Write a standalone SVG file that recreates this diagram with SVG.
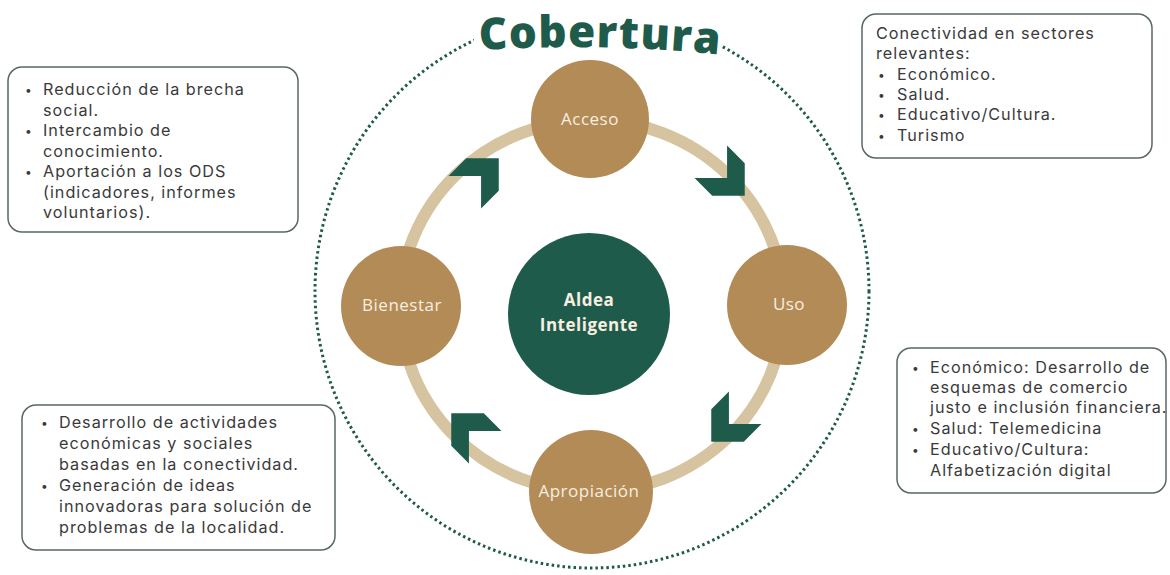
<svg xmlns="http://www.w3.org/2000/svg" width="1170" height="575" viewBox="0 0 1170 575">
<style>
.box{fill:#ffffff;stroke:#5a6766;stroke-width:1.5}
.bt{font-family:Inter,"Open Sans","Liberation Sans",sans-serif;font-size:16.2px;fill:#3a3a3a;letter-spacing:1px}
.b{font-size:12px}
.node{fill:#b38b57}
.nt{font-family:"Open Sans","Liberation Sans",sans-serif;font-size:17px;fill:#f7efe0;text-anchor:middle;letter-spacing:0.5px}
.chev{fill:#1f5b4b}
</style>
<defs>
<polygon id="chev" points="35,0 12,-23 -13,-23 10,0 -13,23 12,23"/>
<path id="titlePath" d="M 440,53 A 1500,1500 0 0,1 760,59"/>
</defs>
<rect width="1170" height="575" fill="#ffffff"/>

<!-- outer dotted coverage circle -->
<circle cx="592" cy="291" r="277" fill="none" stroke="#1f5b4b" stroke-width="3" stroke-dasharray="2.5 3"/>
<rect x="474" y="0" width="248" height="60" fill="#ffffff"/>
<g id="title">
<text font-family="'Open Sans','Liberation Sans',sans-serif" font-weight="800" font-size="44" fill="#1f5b4b" letter-spacing="1.2" text-anchor="middle"><textPath href="#titlePath" startOffset="50%">Cobertura</textPath></text>
</g>

<!-- connectors: cycle ring and chevron arrows -->
<g id="connectors">
<ellipse cx="592" cy="306" rx="192" ry="186" fill="none" stroke="#d6c4a1" stroke-width="12"/>
<use href="#chev" class="chev" transform="translate(720,171) rotate(45)"/>
<use href="#chev" class="chev" transform="translate(736,417) rotate(135)"/>
<use href="#chev" class="chev" transform="translate(476,438) rotate(-135)"/>
<use href="#chev" class="chev" transform="translate(474,183) rotate(-45)"/>
</g>

<g id="aldea">
<circle cx="589" cy="314" r="81" fill="#1f5b4b"/>
<text class="nt" font-weight="700" font-size="16" x="589" y="306">Aldea</text>
<text class="nt" font-weight="700" font-size="16" x="589" y="331">Inteligente</text>
</g>
<g id="acceso">
<circle class="node" cx="590" cy="119" r="59"/>
<text class="nt" x="590" y="125">Acceso</text>
</g>
<g id="uso">
<circle class="node" cx="787" cy="305" r="60"/>
<text class="nt" x="789" y="310">Uso</text>
</g>
<g id="bienestar">
<circle class="node" cx="401" cy="306" r="60"/>
<text class="nt" x="402" y="311">Bienestar</text>
</g>
<g id="apropiacion">
<circle class="node" cx="591" cy="492" r="62"/>
<text class="nt" x="589" y="497">Apropiación</text>
</g>

<g id="box-bienestar">
<rect class="box" x="8" y="67" width="290" height="165" rx="14"/>
<text class="bt"><tspan class="b" x="25" y="94">•</tspan><tspan x="43" y="95">Reducción de la brecha</tspan>
<tspan x="43" y="116">social.</tspan>
<tspan class="b" x="25" y="135">•</tspan><tspan x="43" y="136">Intercambio de</tspan>
<tspan x="43" y="157">conocimiento.</tspan>
<tspan class="b" x="25" y="176">•</tspan><tspan x="43" y="177">Aportación a los ODS</tspan>
<tspan x="43" y="198">(indicadores, informes</tspan>
<tspan x="43" y="218">voluntarios).</tspan></text>
</g>

<g id="box-acceso">
<rect class="box" x="862" y="14" width="290" height="144" rx="14"/>
<text class="bt"><tspan x="876" y="39">Conectividad en sectores</tspan>
<tspan x="876" y="59">relevantes:</tspan>
<tspan class="b" x="878" y="79">•</tspan><tspan x="897" y="80">Económico.</tspan>
<tspan class="b" x="878" y="99">•</tspan><tspan x="897" y="100">Salud.</tspan>
<tspan class="b" x="878" y="119">•</tspan><tspan x="897" y="120">Educativo/Cultura.</tspan>
<tspan class="b" x="878" y="140">•</tspan><tspan x="897" y="141">Turismo</tspan></text>
</g>

<g id="box-uso">
<rect class="box" x="897" y="348" width="269" height="145" rx="14"/>
<text class="bt"><tspan class="b" x="912" y="372">•</tspan><tspan x="930" y="373">Económico: Desarrollo de</tspan>
<tspan x="930" y="393">esquemas de comercio</tspan>
<tspan x="930" y="413">justo e inclusión financiera.</tspan>
<tspan class="b" x="912" y="433">•</tspan><tspan x="930" y="434">Salud: Telemedicina</tspan>
<tspan class="b" x="912" y="454">•</tspan><tspan x="930" y="455">Educativo/Cultura:</tspan>
<tspan x="930" y="476">Alfabetización digital</tspan></text>
</g>

<g id="box-apropiacion">
<rect class="box" x="22" y="405" width="313" height="145" rx="14"/>
<text class="bt"><tspan class="b" x="41" y="427">•</tspan><tspan x="59" y="428">Desarrollo de actividades</tspan>
<tspan x="59" y="449">económicas y sociales</tspan>
<tspan x="59" y="470">basadas en la conectividad.</tspan>
<tspan class="b" x="41" y="490">•</tspan><tspan x="59" y="491">Generación de ideas</tspan>
<tspan x="59" y="512">innovadoras para solución de</tspan>
<tspan x="59" y="533">problemas de la localidad.</tspan></text>
</g>
</svg>
